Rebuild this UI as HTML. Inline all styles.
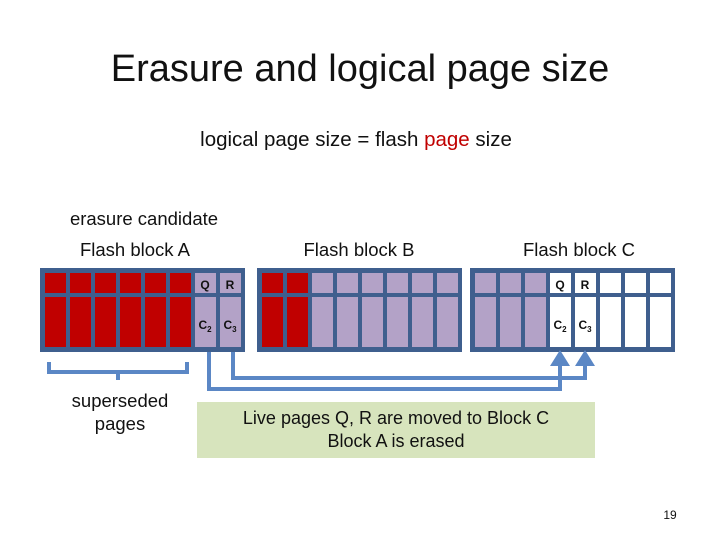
<!DOCTYPE html>
<html><head><meta charset="utf-8"><style>
body{margin:0;background:#fff;}
svg text{font-family:"Liberation Sans",sans-serif;}
</style></head><body>
<svg width="720" height="540" xmlns="http://www.w3.org/2000/svg">
<text x="360" y="81" font-size="38" text-anchor="middle" fill="#111">Erasure and logical page size</text>
<text x="356" y="146" font-size="20.5" text-anchor="middle" fill="#111">logical page size = flash <tspan fill="#c00000">page</tspan> size</text>
<text x="144" y="225" font-size="18.5" text-anchor="middle" fill="#111">erasure candidate</text>
<text x="135" y="256" font-size="18.5" text-anchor="middle" fill="#111">Flash block A</text>
<text x="359" y="256" font-size="18.5" text-anchor="middle" fill="#111">Flash block B</text>
<text x="579" y="256" font-size="18.5" text-anchor="middle" fill="#111">Flash block C</text>
<g>
<rect x="40" y="268" width="205" height="84" fill="#3f5f8e"/>
<rect x="257" y="268" width="205" height="84" fill="#3f5f8e"/>
<rect x="470" y="268" width="205" height="84" fill="#3f5f8e"/>
</g>
<g>
<g fill="#c00000">
<rect x="45" y="273" width="21" height="20"/><rect x="70" y="273" width="21" height="20"/><rect x="95" y="273" width="21" height="20"/><rect x="120" y="273" width="21" height="20"/><rect x="145" y="273" width="21" height="20"/><rect x="170" y="273" width="21" height="20"/>
<rect x="45" y="297" width="21" height="50"/><rect x="70" y="297" width="21" height="50"/><rect x="95" y="297" width="21" height="50"/><rect x="120" y="297" width="21" height="50"/><rect x="145" y="297" width="21" height="50"/><rect x="170" y="297" width="21" height="50"/>
</g>
<g fill="#b3a2c7">
<rect x="195" y="273" width="21" height="20"/><rect x="220" y="273" width="21" height="20"/>
<rect x="195" y="297" width="21" height="50"/><rect x="220" y="297" width="21" height="50"/>
</g>
<g fill="#c00000">
<rect x="262" y="273" width="21" height="20"/><rect x="287" y="273" width="21" height="20"/>
<rect x="262" y="297" width="21" height="50"/><rect x="287" y="297" width="21" height="50"/>
</g>
<g fill="#b3a2c7">
<rect x="312" y="273" width="21" height="20"/><rect x="337" y="273" width="21" height="20"/><rect x="362" y="273" width="21" height="20"/><rect x="387" y="273" width="21" height="20"/><rect x="412" y="273" width="21" height="20"/><rect x="437" y="273" width="21" height="20"/>
<rect x="312" y="297" width="21" height="50"/><rect x="337" y="297" width="21" height="50"/><rect x="362" y="297" width="21" height="50"/><rect x="387" y="297" width="21" height="50"/><rect x="412" y="297" width="21" height="50"/><rect x="437" y="297" width="21" height="50"/>
</g>
<g fill="#b3a2c7">
<rect x="475" y="273" width="21" height="20"/><rect x="500" y="273" width="21" height="20"/><rect x="525" y="273" width="21" height="20"/>
<rect x="475" y="297" width="21" height="50"/><rect x="500" y="297" width="21" height="50"/><rect x="525" y="297" width="21" height="50"/>
</g>
<g fill="#fff">
<rect x="550" y="273" width="21" height="20"/><rect x="575" y="273" width="21" height="20"/><rect x="600" y="273" width="21" height="20"/><rect x="625" y="273" width="21" height="20"/><rect x="650" y="273" width="21" height="20"/>
<rect x="550" y="297" width="21" height="50"/><rect x="575" y="297" width="21" height="50"/><rect x="600" y="297" width="21" height="50"/><rect x="625" y="297" width="21" height="50"/><rect x="650" y="297" width="21" height="50"/>
</g>
</g>
<g font-size="12" font-weight="bold" fill="#111" text-anchor="middle">
<text x="205" y="289">Q</text><text x="230" y="289">R</text>
<text x="205" y="329">C<tspan font-size="8" dy="3">2</tspan></text><text x="230" y="329">C<tspan font-size="8" dy="3">3</tspan></text>
<text x="560" y="289">Q</text><text x="585" y="289">R</text>
<text x="560" y="329">C<tspan font-size="8" dy="3">2</tspan></text><text x="585" y="329">C<tspan font-size="8" dy="3">3</tspan></text>
</g>
<path d="M49 362 V372 H187 V362 M118 372 V380" stroke="#5b87c5" stroke-width="4" fill="none"/>
<g stroke="#5b87c5" stroke-width="4" fill="none">
<path d="M209 352 V389 H560 V360"/>
<path d="M233 352 V378 H585 V360"/>
</g>
<g fill="#5b87c5">
<polygon points="560,350 550,366 570,366"/>
<polygon points="585,350 575,366 595,366"/>
</g>
<text x="120" y="407" font-size="18.5" text-anchor="middle" fill="#111">superseded</text>
<text x="120" y="430" font-size="18.5" text-anchor="middle" fill="#111">pages</text>
<rect x="197" y="402" width="398" height="56" fill="#d7e4bd"/>
<text x="396" y="424" font-size="18" text-anchor="middle" fill="#111">Live pages Q, R are moved to Block C</text>
<text x="396" y="447" font-size="18" text-anchor="middle" fill="#111">Block A is erased</text>
<text x="670" y="519" font-size="12" text-anchor="middle" fill="#111">19</text>
</svg>
</body></html>
